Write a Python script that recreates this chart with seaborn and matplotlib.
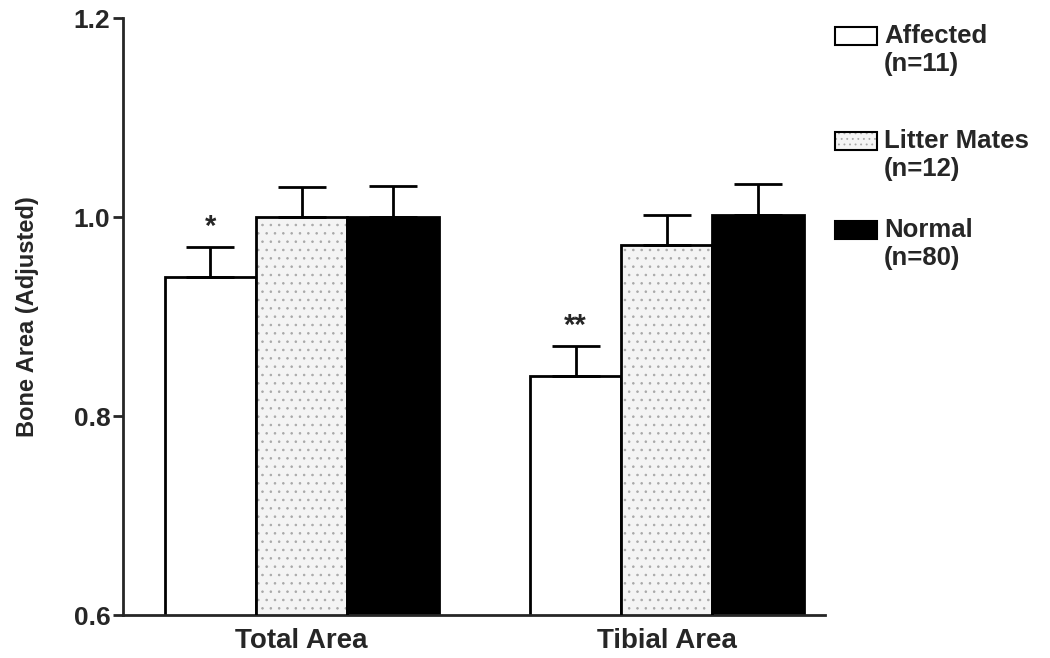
import seaborn as sns
import matplotlib.pyplot as plt
import pandas as pd
from matplotlib.patches import Rectangle

# data
regions = ["Total Area", "Tibial Area"]
groups = ["Affected", "Litter Mates", "Normal"]
group_n = ["(n=11)", "(n=12)", "(n=80)"]
affected = [0.94, 0.84]
litter_mates = [1.00, 0.972]
normal = [1.00, 1.002]
affected_err = [0.03, 0.03]
litter_err = [0.03, 0.03]
normal_err = [0.031, 0.031]
stars = ["*", "**"]

df = pd.DataFrame({
    "region": regions * 3,
    "group": [g for g in groups for _ in regions],
    "value": affected + litter_mates + normal,
})
errs = [affected_err, litter_err, normal_err]

sns.set_style("ticks")
plt.rcParams["font.family"] = ["Liberation Sans", "DejaVu Sans"]
plt.rcParams["font.weight"] = "bold"
plt.rcParams["hatch.linewidth"] = 0.6

fig = plt.figure(figsize=(10.5, 6.58), dpi=100)
ax = fig.add_axes([0.117, 0.0653, 0.6686, 0.9073])

fills = {"Affected": "white", "Litter Mates": "#f4f4f4", "Normal": "black"}
sns.barplot(data=df, x="region", y="value", hue="group", hue_order=groups,
            palette=fills, edgecolor="black", linewidth=2, width=0.75,
            errorbar=None, legend=False, ax=ax)

# stipple the litter mate bars, keep a black outline on top
for bar in ax.containers[1]:
    bar.set_edgecolor("#a8a8a8")
    bar.set_hatch("..")
    bar.set_linewidth(0)
    ax.add_patch(Rectangle(bar.get_xy(), bar.get_width(), bar.get_height(),
                           fill=False, edgecolor="black", linewidth=2, zorder=3))

# upward-only error bars
for cont, e in zip(ax.containers, errs):
    xs = [b.get_x() + b.get_width() / 2 for b in cont]
    ys = [b.get_height() for b in cont]
    ax.errorbar(xs, ys, yerr=[[0] * len(e), e], fmt="none", ecolor="black",
                elinewidth=2, capsize=17, capthick=2, zorder=4)

# significance marks over the affected bars
for b, e, s in zip(ax.containers[0], affected_err, stars):
    ax.text(b.get_x() + b.get_width() / 2, b.get_height() + e + 0.006, s,
            ha="center", va="bottom", fontsize=21, fontweight="bold")

ax.set_ylim(0.6, 1.2)
ax.set_xlim(-0.49, 1.433)
ax.set_yticks([0.6, 0.8, 1.0, 1.2])
ax.set_yticklabels(["0.6", "0.8", "1.0", "1.2"])
ax.set_xlabel("")
ax.set_ylabel("Bone Area (Adjusted)", fontsize=17, fontweight="bold", labelpad=25)
ax.tick_params(axis="y", length=7, width=2, labelsize=19, pad=2)
ax.tick_params(axis="x", length=0, labelsize=20, pad=9)
for lab in ax.get_xticklabels() + ax.get_yticklabels():
    lab.set_fontweight("bold")
sns.despine(ax=ax)
for sp in ["left", "bottom"]:
    ax.spines[sp].set_linewidth(2)

# legend drawn by hand: box beside the first line of a two-line label
W, H = 1050, 658
rows_y = [36, 141, 230]
for g, n, y in zip(groups, group_n, rows_y):
    r = Rectangle((835 / W, 1 - (y + 9) / H), 42 / W, 18 / H,
                  transform=fig.transFigure, facecolor=fills[g],
                  edgecolor="black", linewidth=1.5)
    if g == "Litter Mates":
        r.set_hatch("...")
        r.set_edgecolor("#a8a8a8")
        r.set_linewidth(0)
        fig.add_artist(r)
        r = Rectangle((835 / W, 1 - (y + 9) / H), 42 / W, 18 / H,
                      transform=fig.transFigure, fill=False,
                      edgecolor="black", linewidth=1.5)
    fig.add_artist(r)
    fig.text(884 / W, 1 - y / H, g, ha="left", va="center", fontsize=18.5,
             fontweight="bold")
    fig.text(884 / W, 1 - (y + 28) / H, n, ha="left", va="center", fontsize=18.5,
             fontweight="bold")

fig.savefig("out.png", dpi=100)
